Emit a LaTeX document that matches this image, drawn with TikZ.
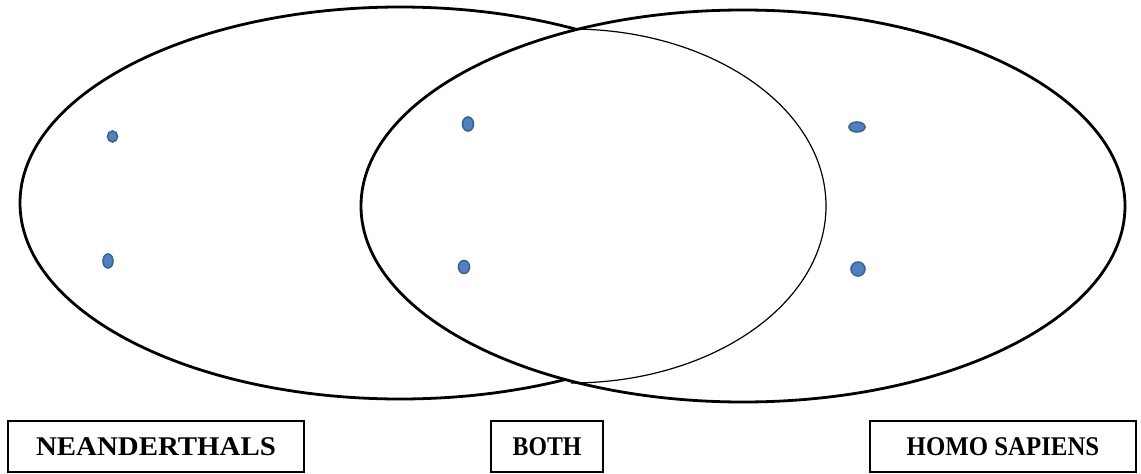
\documentclass[tikz,border=0pt]{standalone}
\usepackage{fontspec}
\setmainfont{Liberation Serif}
\usetikzlibrary{shapes.geometric}
\definecolor{dotfill}{HTML}{4F81BD}
\definecolor{dotline}{HTML}{3A6595}
\tikzset{
  thickline/.style={line width=2.8pt, black},
  thinline/.style={line width=1.2pt, black},
  dotnode/.style={ellipse, draw=dotline, fill=dotfill, line width=1.6pt, inner sep=0pt},
  labelbox/.style={draw=black, line width=1.4pt, minimum height=51pt, inner sep=0pt,
    font=\fontsize{27}{31}\selectfont\bfseries}
}
\begin{document}
\begin{tikzpicture}[x=1pt,y=-1pt]
\useasboundingbox (0,0) rectangle (1141,474);
\coordinate (Lc) at (400,203);
\coordinate (Rc) at (743,206);
\coordinate (Mtop) at (571,29);
% left ellipse
\draw[thickline] (Lc) ellipse [x radius=380, y radius=196];
% right ellipse
\draw[thickline, fill=white] (Rc) ellipse [x radius=382, y radius=196];
% thin arc closing the middle region
\draw[thinline] (Mtop) arc [start angle=-90, end angle=90, x radius=255, y radius=177];
% dots
\node[dotnode, minimum width=10pt, minimum height=11pt] (d1) at (112.5,136.5) {};
\node[dotnode, minimum width=10pt, minimum height=14pt] (d2) at (108,261) {};
\node[dotnode, minimum width=11pt, minimum height=14pt] (d3) at (468,124) {};
\node[dotnode, minimum width=11pt, minimum height=13pt] (d4) at (464,267) {};
\node[dotnode, minimum width=16pt, minimum height=10pt] (d5) at (857,127) {};
\node[dotnode, minimum width=14pt, minimum height=14pt] (d6) at (858,269) {};
% labels
\node[labelbox, minimum width=296pt] (neander) at (156,446.5) {\scalebox{1.07}[1]{NEANDERTHALS}};
\node[labelbox, minimum width=112pt] (both) at (547,446.5) {\scalebox{0.88}[1]{BOTH}};
\node[labelbox, minimum width=266pt] (homo) at (1003,446.5) {\scalebox{0.92}[1]{HOMO SAPIENS}};
\end{tikzpicture}
\end{document}
